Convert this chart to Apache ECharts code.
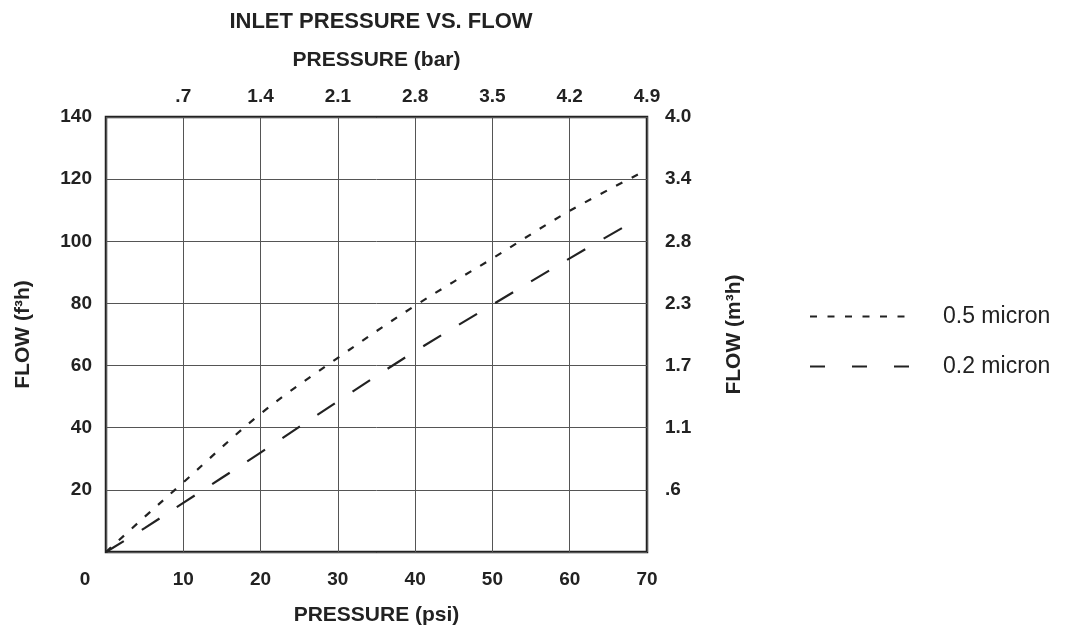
<!DOCTYPE html>
<html><head><meta charset="utf-8">
<script src="https://cdn.jsdelivr.net/npm/echarts@6/dist/echarts.min.js"></script>
<style>html,body{margin:0;padding:0;background:#fff}#c{width:1073px;height:629px}</style>
</head><body><div id="c"></div>
<script>
const psiTicks = [0, 10, 20, 30, 40, 50, 60, 70];
const barLabels = ['', '.7', '1.4', '2.1', '2.8', '3.5', '4.2', '4.9'];
const flowTicks = [0, 20, 40, 60, 80, 100, 120, 140];
const m3hLabels = ['', '.6', '1.1', '1.7', '2.3', '2.8', '3.4', '4.0'];
const psi05 = [0, 5, 10, 20, 30, 40, 50, 60, 70];
const flow05 = [0, 11.3, 22.4, 44.5, 62.5, 79.3, 94.5, 109.8, 123];
const psi02 = [0, 5, 10, 20, 30, 40, 50, 60, 68];
const flow02 = [0, 7.7, 15.8, 32, 48.5, 64.6, 79.6, 94.5, 106];
const seriesNames = ['0.5 micron', '0.2 micron'];

const FONT = "'Liberation Sans', Arial, Helvetica, sans-serif";
const INK = '#222';
const tickLabel = { fontFamily: FONT, fontSize: 19, fontWeight: 'bold', color: INK };
const nameStyle = { fontFamily: FONT, fontSize: 21, fontWeight: 'bold', color: INK };
const split = { show: true, lineStyle: { color: '#555', width: 1 } };

const chart = echarts.init(document.getElementById('c'), null, { renderer: 'canvas' });
chart.setOption({
  animation: false,
  backgroundColor: '#fff',
  title: {
    text: 'INLET PRESSURE VS. FLOW',
    left: 376, top: 6, textAlign: 'center',
    textStyle: { fontFamily: FONT, fontSize: 22, fontWeight: 'bold', color: INK }
  },
  grid: {
    left: 106, right: 426, top: 117, bottom: 77,
    outerBoundsMode: 'none', containLabel: false,
    show: true, borderColor: INK, borderWidth: 2.5, backgroundColor: 'transparent'
  },
  legend: {
    orient: 'vertical', left: 804, top: 300, itemGap: 27,
    itemWidth: 100, itemHeight: 14,
    itemStyle: { opacity: 0 },
    textStyle: { fontFamily: FONT, fontSize: 23, color: INK, padding: [0, 0, 0, 28] },
    data: [
      { name: seriesNames[0], itemStyle: { opacity: 0 } },
      { name: seriesNames[1], itemStyle: { opacity: 0 }, lineStyle: { type: [15, 27] } }
    ]
  },
  xAxis: [
    {
      type: 'value', position: 'bottom', min: 0, max: 70, interval: 10,
      name: 'PRESSURE (psi)', nameLocation: 'middle', nameGap: 53, nameTextStyle: nameStyle,
      axisLine: { show: false }, axisTick: { show: false }, splitLine: split,
      axisLabel: Object.assign({}, tickLabel, {
        margin: 18,
        formatter: v => v === 0 ? '{z|0}' : String(v),
        rich: { z: { fontFamily: FONT, fontSize: 19, fontWeight: 'bold', color: INK, padding: [0, 42, 0, 0] } }
      })
    },
    {
      type: 'value', position: 'top', min: 0, max: 70, interval: 10,
      name: 'PRESSURE (bar)', nameLocation: 'middle', nameGap: 46, nameTextStyle: nameStyle,
      axisLine: { show: false }, axisTick: { show: false }, splitLine: { show: false },
      axisLabel: Object.assign({}, tickLabel, {
        margin: 11,
        formatter: v => barLabels[psiTicks.indexOf(v)] || ''
      })
    }
  ],
  yAxis: [
    {
      type: 'value', position: 'left', min: 0, max: 140, interval: 20,
      name: 'FLOW (f³h)', nameLocation: 'middle', nameGap: 72, nameRotate: 90, nameTextStyle: nameStyle,
      axisLine: { show: false }, axisTick: { show: false }, splitLine: split,
      axisLabel: Object.assign({}, tickLabel, {
        margin: 14,
        formatter: v => v === 0 ? '' : String(v)
      })
    },
    {
      type: 'value', position: 'right', min: 0, max: 140, interval: 20,
      name: 'FLOW (m³h)', nameLocation: 'middle', nameGap: 77, nameRotate: 90, nameTextStyle: nameStyle,
      axisLine: { show: false }, axisTick: { show: false }, splitLine: { show: false },
      axisLabel: Object.assign({}, tickLabel, {
        margin: 18,
        formatter: v => m3hLabels[flowTicks.indexOf(v)] || ''
      })
    }
  ],
  series: [
    {
      name: seriesNames[0], type: 'line', xAxisIndex: 0, yAxisIndex: 0,
      smooth: 0.35, showSymbol: false, symbol: 'none', silent: true,
      lineStyle: { color: INK, width: 2.2, type: [7, 10.5] },
      itemStyle: { color: INK },
      data: psi05.map((x, i) => [x, flow05[i]])
    },
    {
      name: seriesNames[1], type: 'line', xAxisIndex: 0, yAxisIndex: 0,
      smooth: 0.35, showSymbol: false, symbol: 'none', silent: true,
      lineStyle: { color: INK, width: 2.2, type: [21, 21] },
      itemStyle: { color: INK },
      data: psi02.map((x, i) => [x, flow02[i]])
    }
  ]
});
</script>
</body></html>
